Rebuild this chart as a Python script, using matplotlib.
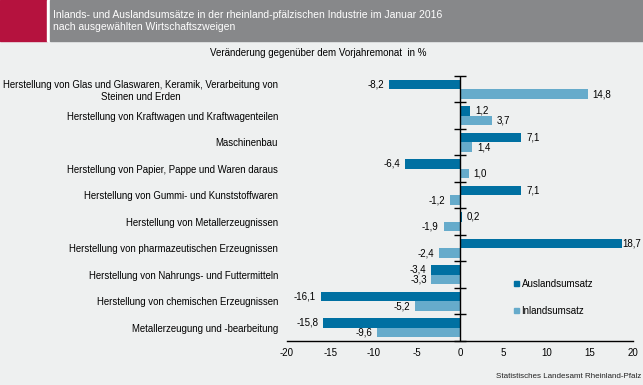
import numpy as np
import matplotlib.pyplot as plt
from matplotlib.patches import Patch

plt.rcParams['font.family'] = ['Liberation Sans', 'DejaVu Sans']

categories = [
    "Herstellung von Glas und Glaswaren, Keramik, Verarbeitung von\nSteinen und Erden",
    "Herstellung von Kraftwagen und Kraftwagenteilen",
    "Maschinenbau",
    "Herstellung von Papier, Pappe und Waren daraus",
    "Herstellung von Gummi- und Kunststoffwaren",
    "Herstellung von Metallerzeugnissen",
    "Herstellung von pharmazeutischen Erzeugnissen",
    "Herstellung von Nahrungs- und Futtermitteln",
    "Herstellung von chemischen Erzeugnissen",
    "Metallerzeugung und -bearbeitung",
]
auslands = [-8.2, 1.2, 7.1, -6.4, 7.1, 0.2, 18.7, -3.4, -16.1, -15.8]
inlands = [14.8, 3.7, 1.4, 1.0, -1.2, -1.9, -2.4, -3.3, -5.2, -9.6]
xticks = [-20, -15, -10, -5, 0, 5, 10, 15, 20]

c_aus = '#0070a2'
c_in = '#66abcb'
bg = '#eef0f0'

fig = plt.figure(figsize=(6.43, 3.85), dpi=100, facecolor=bg)

# header band
fig.patches.append(plt.Rectangle((0, 1 - 41/385), 47/643, 41/385, transform=fig.transFigure,
                                 color='#b5123e', zorder=0))
fig.patches.append(plt.Rectangle((47/643, 1 - 41/385), 3/643, 41/385, transform=fig.transFigure,
                                 color='white', zorder=0))
fig.patches.append(plt.Rectangle((50/643, 1 - 41/385), 593/643, 41/385, transform=fig.transFigure,
                                 color='#87888a', zorder=0))
fig.text(53/643, 1 - 15/385, "Inlands- und Auslandsumsätze in der rheinland-pfälzischen Industrie im Januar 2016",
         color='white', fontsize=7.5, va='center', ha='left')
fig.text(53/643, 1 - 27/385, "nach ausgewählten Wirtschaftszweigen",
         color='white', fontsize=7.5, va='center', ha='left')
fig.text(318/643, 1 - 53/385, "Veränderung gegenüber dem Vorjahremonat  in %",
         color='black', fontsize=7, va='center', ha='center')
fig.text(641/643, 1 - 377/385, "Statistisches Landesamt Rheinland-Pfalz",
         color='#222222', fontsize=5.8, va='center', ha='right')

ax = fig.add_axes([287/643, 1 - 341/385, 346/643, 265/385])
ax.set_facecolor(bg)

n = len(categories)
y = np.arange(n)
h = 0.365
ax.barh(y - h/2, auslands, height=h, color=c_aus, zorder=2)
ax.barh(y + h/2, inlands, height=h, color=c_in, zorder=2)

ax.set_xlim(-20, 20)
ax.set_ylim(n - 0.5, -0.5)


def label(yy, v):
    off = 0.55 if v >= 0 else -0.55
    if v > 18:
        off = 0.1
    ax.text(v + off, yy, f"{v:.1f}".replace('.', ','), ha='left' if v >= 0 else 'right',
            va='center', fontsize=7)


for yy, v in zip(y - h/2, auslands):
    label(yy, v)
for yy, v in zip(y + h/2, inlands):
    label(yy, v)

# zero line with category boundary ticks
ax.axvline(0, color='black', lw=1, zorder=3)
bounds = np.arange(n + 1) - 0.5
ax.plot(np.zeros(n + 1), bounds, ls='none', marker='_', ms=8, mew=1, color='black', zorder=3,
        clip_on=False)

for s in ['top', 'right', 'left']:
    ax.spines[s].set_visible(False)
ax.spines['bottom'].set_linewidth(1)

ax.set_xticks(xticks)
ax.set_xticklabels([str(t) for t in xticks], fontsize=7)
ax.tick_params(axis='x', length=0, pad=5)
ax.set_yticks(y)
ax.set_yticklabels(categories, fontsize=6.95, multialignment='center')
ax.tick_params(axis='y', length=0, pad=6.5)

handles = [Patch(color=c_aus, label='Auslandsumsatz'), Patch(color=c_in, label='Inlandsumsatz')]
fig.legend(handles=handles, loc='upper left', bbox_to_anchor=(505/643, 1 - 270/385), frameon=False,
           fontsize=7, handlelength=0.5, handleheight=0.5, handletextpad=0.3, labelspacing=1.75)

fig.savefig('out.png', dpi=100, facecolor=bg)
